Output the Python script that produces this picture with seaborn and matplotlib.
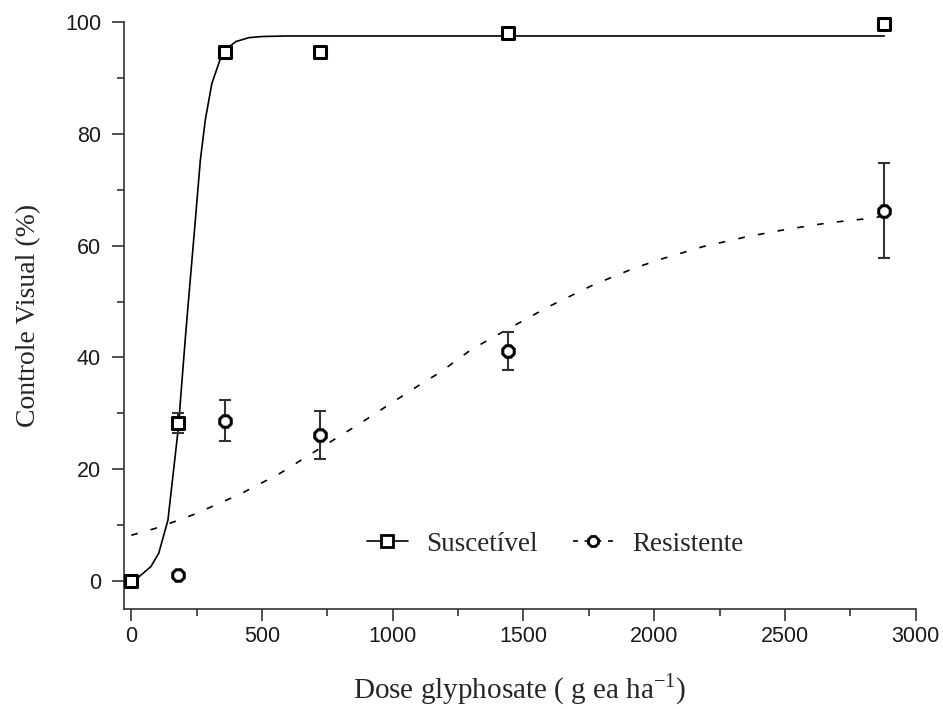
import numpy as np
import pandas as pd
import seaborn as sns
import matplotlib.pyplot as plt
from matplotlib.lines import Line2D
from matplotlib.ticker import MultipleLocator

dose = [0, 180, 360, 720, 1440, 2880]
sus_mean = [0.0, 28.3, 94.7, 94.7, 98.0, 99.7]
sus_err = [0.0, 1.8, 0.0, 0.0, 0.0, 0.7]
res_mean = [0.0, 1.0, 28.7, 26.2, 41.2, 66.2]
res_err = [0.0, 0.0, 3.6, 4.3, 3.4, 8.5]

# Fitted curves
sus_curve_x = [0, 30, 75, 105, 140, 163, 182, 188, 207, 223, 243, 264, 283,
               308, 350, 400, 450, 500, 600, 2880]
sus_curve_y = [0.0, 0.8, 2.6, 5.0, 10.9, 20.4, 28.3, 32.4, 43.7, 52.6, 63.5,
               75.3, 82.5, 89.0, 94.7, 96.5, 97.2, 97.4, 97.5, 97.5]
res_curve_x = [0, 90, 175, 250, 330, 410, 570, 720, 875, 1000, 1120, 1180,
               1300, 1445, 1597, 1768, 1920, 2020, 2100, 2185, 2355, 2505,
               2670, 2830, 2880]
res_curve_y = [8.2, 9.4, 10.8, 12.1, 13.8, 15.4, 19.3, 23.7, 28.2, 32.0, 35.6,
               37.3, 41.4, 45.2, 49.1, 53.0, 55.9, 57.5, 58.6, 59.8, 61.6, 62.9,
               64.1, 64.9, 65.3]

obs = pd.DataFrame({"dose": dose, "sus": sus_mean, "sus_err": sus_err,
                    "res": res_mean, "res_err": res_err})

sns.set_style("ticks")
plt.rcParams["font.family"] = ["Liberation Sans", "DejaVu Sans"]
plt.rcParams["mathtext.fontset"] = "custom"
plt.rcParams["mathtext.rm"] = "Liberation Serif"

fig = plt.figure(figsize=(9.43, 7.09), dpi=100)
ax = fig.add_axes([0.1315, 0.141, 0.8395, 0.828])

# curves
sns.lineplot(x=sus_curve_x, y=sus_curve_y, ax=ax, color="black", lw=1.2,
             sort=False, estimator=None)
sns.lineplot(x=res_curve_x, y=res_curve_y, ax=ax, color="black", lw=1.2,
             sort=False, estimator=None, linestyle=(0, (4, 8)))

# error bars
e = obs[obs["sus_err"] > 0]
ax.errorbar(e["dose"], e["sus"], yerr=e["sus_err"], fmt="none", ecolor="#333333",
            elinewidth=1.5, capsize=4.5, capthick=1.5, clip_on=False)
e = obs[obs["res_err"] > 0]
ax.errorbar(e["dose"], e["res"], yerr=e["res_err"], fmt="none", ecolor="#333333",
            elinewidth=1.5, capsize=4.5, capthick=1.5, clip_on=False)

# points
sns.scatterplot(data=obs, x="dose", y="res", ax=ax, marker="8", s=80,
                facecolor="white", edgecolor="black", linewidth=2.2,
                zorder=5, clip_on=False)
sns.scatterplot(data=obs, x="dose", y="sus", ax=ax, marker="s", s=70,
                facecolor="white", edgecolor="black", linewidth=2.2,
                zorder=6, clip_on=False)

ax.set_xlim(-28, 3000)
ax.set_ylim(-5, 100)
ax.xaxis.set_major_locator(MultipleLocator(500))
ax.xaxis.set_minor_locator(MultipleLocator(250))
ax.yaxis.set_major_locator(MultipleLocator(20))
ax.yaxis.set_minor_locator(MultipleLocator(10))
ax.tick_params(which="major", length=8.5, width=1.2, color="#333333",
               labelsize=15.5, labelcolor="#1a1a1a")
ax.tick_params(which="minor", length=5, width=1.2, color="#333333")
ax.tick_params(axis="x", which="major", pad=3.5)
ax.tick_params(axis="y", which="major", pad=8)
for s in ["left", "bottom"]:
    ax.spines[s].set_linewidth(1.2)
    ax.spines[s].set_color("#333333")
sns.despine(ax=ax)

ax.set_xlabel("Dose glyphosate ( g ea ha$^{\\mathregular{-1}}$)",
              family="Liberation Serif", fontsize=21, labelpad=18)
ax.set_ylabel("Controle Visual (%)", family="Liberation Serif", fontsize=20,
              labelpad=17)

handles = [
    Line2D([], [], color="black", lw=1.2, marker="s", markersize=8,
           markerfacecolor="white", markeredgewidth=2),
    Line2D([], [], color="black", lw=1.2, linestyle=(0, (3, 4)), marker="8",
           markersize=8, markerfacecolor="white", markeredgewidth=2),
]
ax.legend(handles, ["Suscetível", "Resistente"], loc="center",
          bbox_to_anchor=(0.545, 0.11), ncol=2, frameon=False,
          prop={"family": "Liberation Serif", "size": 19.5},
          handlelength=1.5, columnspacing=1.3, handletextpad=0.7)

plt.savefig("out.png", dpi=100)
plt.close()
